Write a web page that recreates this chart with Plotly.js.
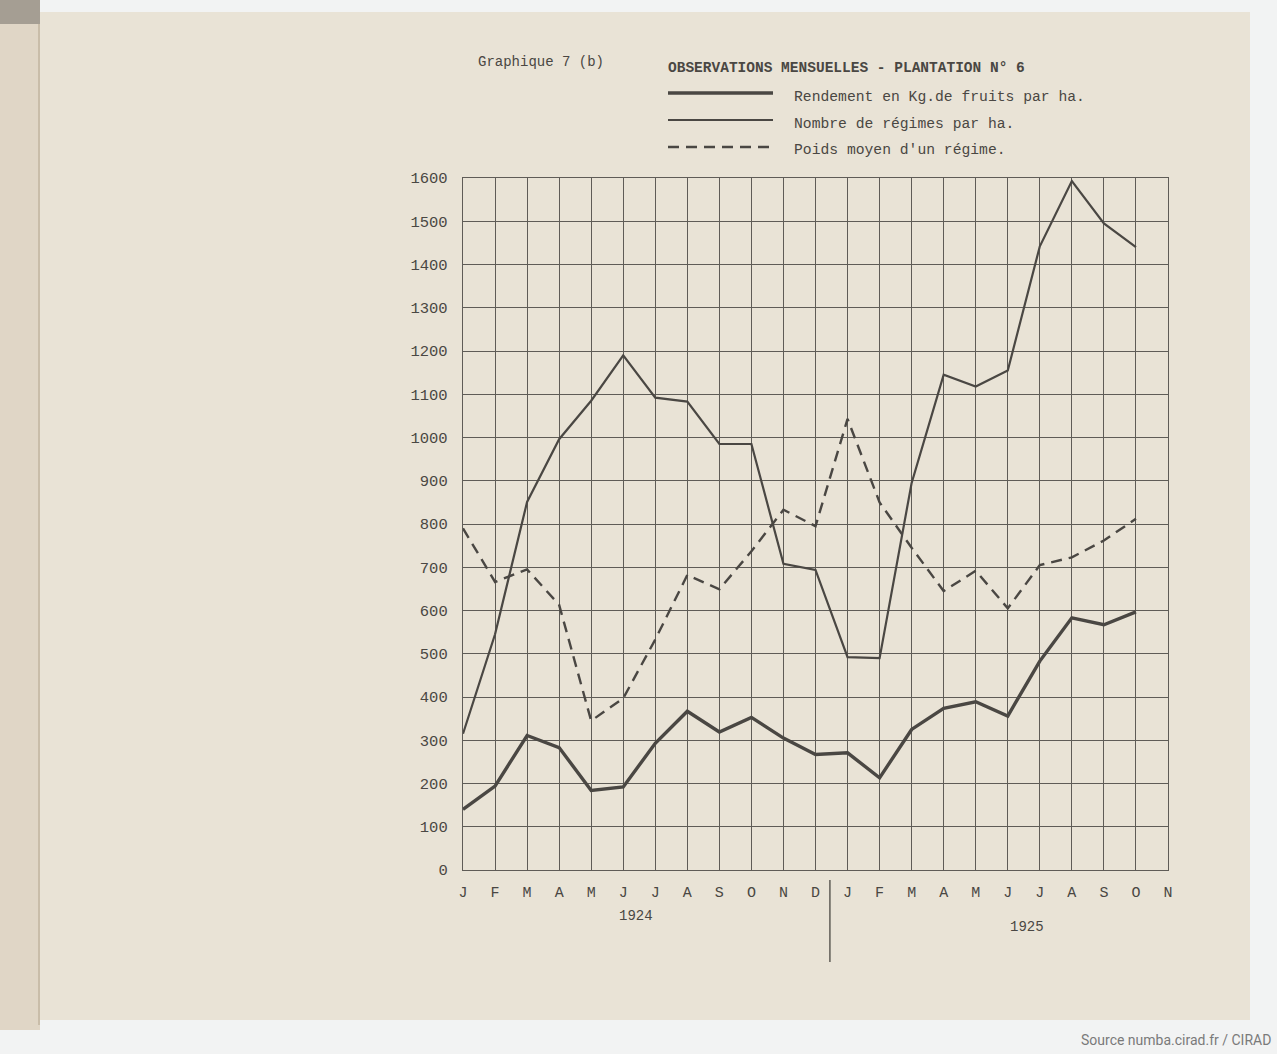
<!DOCTYPE html>
<html>
<head>
<meta charset="utf-8">
<script src="https://cdn.plot.ly/plotly-3.0.1.min.js"></script>
<style>
  html, body { margin: 0; padding: 0; background: #f2f3f3; }
  #chart { width: 1277px; height: 1054px; }
</style>
</head>
<body>
<div id="chart"></div>
<script>
// Month tick labels (Jan 1924 .. Nov 1925)
const months = ['J','F','M','A','M','J','J','A','S','O','N','D',
                'J','F','M','A','M','J','J','A','S','O','N'];
const monthIndex = months.map((m, i) => i);
const years = ['1924', '1925'];

// Series names (legend)
const seriesNames = [
  'Rendement en Kg.de fruits par ha.',
  'Nombre de régimes par ha.',
  "Poids moyen d'un régime."
];

// Values, Jan 1924 .. Oct 1925
const rendement = [140, 194, 311, 283, 184, 192, 293, 367, 319, 353, 305, 267,
                   271, 213, 325, 374, 389, 356, 483, 583, 567, 597];
const nombre    = [315, 545, 851, 996, 1085, 1190, 1092, 1083, 985, 985, 708, 694,
                   492, 490, 895, 1145, 1118, 1155, 1442, 1593, 1495, 1440];
const poids     = [790, 666, 695, 613, 345, 397, 533, 682, 649, 737, 833, 795,
                   1043, 850, 745, 645, 692, 605, 705, 723, 762, 812];

const ink = '#4a4743';
const gridInk = '#5f5c57';
const mono = '"Liberation Mono", "DejaVu Sans Mono", monospace';
const xs = rendement.map((v, i) => monthIndex[i]);

const traces = [
  { x: xs, y: nombre, mode: 'lines', name: seriesNames[1],
    line: { color: ink, width: 2.2 }, hoverinfo: 'skip' },
  { x: xs, y: rendement, mode: 'lines', name: seriesNames[0],
    line: { color: ink, width: 3.4 }, hoverinfo: 'skip' },
  { x: xs, y: poids, mode: 'lines', name: seriesNames[2],
    line: { color: ink, width: 2.4, dash: '11px,7px' }, hoverinfo: 'skip' }
];

// geometry helpers for decorations (paper coords relative to plot area)
const L = 463, R = 109, T = 178, B = 184, W = 1277, H = 1054;
const pw = W - L - R, ph = H - T - B;
const px = v => (v - L) / pw;
const py = v => (H - B - v) / ph;

const shapes = [
  // paper sheet
  { type: 'rect', xref: 'paper', yref: 'paper', layer: 'below',
    x0: px(38), x1: px(1250), y0: py(1020), y1: py(12),
    fillcolor: '#e9e3d6', line: { width: 0 } },
  // left binding strip
  { type: 'rect', xref: 'paper', yref: 'paper', layer: 'below',
    x0: px(0), x1: px(40), y0: py(1030), y1: py(8),
    fillcolor: '#e0d6c6', line: { width: 0 } },
  { type: 'line', xref: 'paper', yref: 'paper', layer: 'below',
    x0: px(39), x1: px(39), y0: py(1025), y1: py(12),
    line: { color: '#c9bda9', width: 2 } },
  { type: 'rect', xref: 'paper', yref: 'paper', layer: 'below',
    x0: px(0), x1: px(40), y0: py(24), y1: py(0),
    fillcolor: '#a59e93', line: { width: 0 } },
  // year separator
  { type: 'line', xref: 'x', yref: 'paper', x0: 11.45, x1: 11.45,
    y0: py(962), y1: py(880), line: { color: ink, width: 1.3 } },
  // legend samples
  { type: 'line', xref: 'paper', yref: 'paper', x0: px(668), x1: px(773),
    y0: py(93), y1: py(93), line: { color: ink, width: 3.4 } },
  { type: 'line', xref: 'paper', yref: 'paper', x0: px(668), x1: px(773),
    y0: py(120), y1: py(120), line: { color: ink, width: 2.2 } },
  { type: 'line', xref: 'paper', yref: 'paper', x0: px(668), x1: px(773),
    y0: py(147), y1: py(147), line: { color: ink, width: 2.4, dash: '11px,7px' } }
];

const annotations = [
  { text: 'Graphique 7 (b)', xref: 'paper', yref: 'paper', x: px(541), y: py(62),
    showarrow: false, xanchor: 'center', yanchor: 'middle',
    font: { family: mono, size: 14, color: ink } },
  { text: '<b>OBSERVATIONS MENSUELLES - PLANTATION N° 6</b>', xref: 'paper', yref: 'paper',
    x: px(666), y: py(68), showarrow: false, xanchor: 'left', yanchor: 'middle',
    font: { family: mono, size: 14.5, color: ink } },
  { text: seriesNames[0], xref: 'paper', yref: 'paper', x: px(792), y: py(97),
    showarrow: false, xanchor: 'left', yanchor: 'middle',
    font: { family: mono, size: 14.7, color: ink } },
  { text: seriesNames[1], xref: 'paper', yref: 'paper', x: px(792), y: py(124),
    showarrow: false, xanchor: 'left', yanchor: 'middle',
    font: { family: mono, size: 14.7, color: ink } },
  { text: seriesNames[2], xref: 'paper', yref: 'paper', x: px(792), y: py(150),
    showarrow: false, xanchor: 'left', yanchor: 'middle',
    font: { family: mono, size: 14.7, color: ink } },
  { text: years[0], xref: 'x', yref: 'paper', x: 5.4, y: py(916),
    showarrow: false, xanchor: 'center', yanchor: 'middle',
    font: { family: mono, size: 14, color: ink } },
  { text: years[1], xref: 'x', yref: 'paper', x: 17.6, y: py(927),
    showarrow: false, xanchor: 'center', yanchor: 'middle',
    font: { family: mono, size: 14, color: ink } },
  { text: 'Source numba.cirad.fr / CIRAD', xref: 'paper', yref: 'paper',
    x: px(1273), y: py(1040), showarrow: false, xanchor: 'right', yanchor: 'middle',
    font: { family: 'Roboto, "Noto Sans", sans-serif', size: 14, color: '#7a7a7a' } }
];

const layout = {
  width: W, height: H,
  margin: { l: L, r: R, t: T, b: B, pad: 0 },
  paper_bgcolor: '#f2f3f3',
  plot_bgcolor: 'rgba(0,0,0,0)',
  showlegend: false,
  xaxis: {
    range: [0, months.length - 1],
    tickmode: 'array', tickvals: monthIndex, ticktext: months,
    showgrid: true, gridcolor: gridInk, gridwidth: 1,
    zeroline: false, showline: true, mirror: true, linecolor: gridInk, linewidth: 1.2,
    ticks: '', ticklabelstandoff: 8,
    tickfont: { family: mono, size: 15, color: ink },
    fixedrange: true
  },
  yaxis: {
    range: [0, 1600], tickmode: 'linear', tick0: 0, dtick: 100,
    showgrid: true, gridcolor: gridInk, gridwidth: 1,
    zeroline: false, showline: true, mirror: true, linecolor: gridInk, linewidth: 1.2,
    ticks: '', ticklabelstandoff: 11,
    tickfont: { family: mono, size: 15.5, color: ink },
    fixedrange: true
  },
  shapes: shapes,
  annotations: annotations
};

Plotly.newPlot('chart', traces, layout, { displayModeBar: false, staticPlot: true });
</script>
</body>
</html>
